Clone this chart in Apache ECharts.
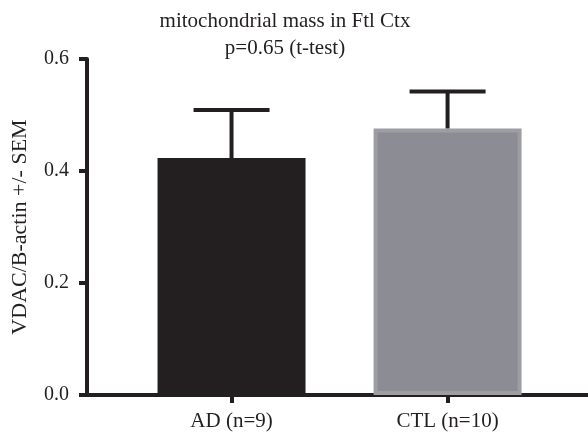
<!DOCTYPE html>
<html>
<head>
    <meta charset="utf-8">
    <script src="https://cdn.jsdelivr.net/npm/echarts@6/dist/echarts.min.js"></script>
    <style>
        html, body { margin: 0; padding: 0; background: #fff; }
    </style>
</head>
<body>
<div id="main" style="width: 588px;height:432px;"></div>
<script type="text/javascript">
    // data
    var groups = ['AD (n=9)', 'CTL (n=10)'];
    var positions = [1, 2];
    var means = [0.423, 0.476];
    var sems = [0.086, 0.066];
    var barColors = ['#231f20', '#8c8c94'];

    var ink = '#231f20';
    var serif = 'Liberation Serif';

    var barData = [];
    var errData = [];
    for (var i = 0; i < groups.length; i++) {
        var item = { value: [positions[i], means[i]], itemStyle: { color: barColors[i] } };
        if (i == 1) {
            item.itemStyle.borderColor = '#9d9da3';
            item.itemStyle.borderWidth = 4;
        }
        barData.push(item);
        errData.push([positions[i], means[i], means[i] + sems[i]]);
    }

    var myChart = echarts.init(document.getElementById('main'));

    var option = {
        animation: false,
        title: {
            text: 'mitochondrial mass in Ftl Ctx\np=0.65 (t-test)',
            left: 280,
            top: 3,
            textAlign: 'center',
            textStyle: {
                fontFamily: serif,
                fontSize: 21,
                fontWeight: 'normal',
                color: ink,
                lineHeight: 27
            }
        },
        grid: { left: 87, right: 0, top: 59, bottom: 37 },
        xAxis: {
            type: 'value',
            min: 0.331,
            max: 2.65,
            splitLine: { show: false },
            axisLine: { lineStyle: { color: ink, width: 4 } },
            axisTick: { customValues: positions, length: 8, lineStyle: { color: ink, width: 4 } },
            axisLabel: {
                customValues: positions,
                margin: 16,
                fontFamily: serif,
                fontSize: 21,
                color: ink,
                formatter: function (v) {
                    return groups[positions.indexOf(v)];
                }
            }
        },
        yAxis: {
            type: 'value',
            min: 0,
            max: 0.6,
            interval: 0.2,
            name: 'VDAC/B-actin +/- SEM',
            nameLocation: 'middle',
            nameGap: 56,
            nameTextStyle: { fontFamily: serif, fontSize: 22, color: ink },
            splitLine: { show: false },
            axisLine: { show: true, lineStyle: { color: ink, width: 4 } },
            axisTick: { show: true, length: 8, lineStyle: { color: ink, width: 4 } },
            axisLabel: {
                margin: 18,
                fontFamily: serif,
                fontSize: 20,
                color: ink,
                formatter: function (v) { return v.toFixed(1); }
            }
        },
        series: [
            {
                type: 'bar',
                barWidth: 148,
                data: barData
            },
            {
                type: 'custom',
                z: 3,
                renderItem: function (params, api) {
                    var base = api.coord([api.value(0), api.value(1)]);
                    var top = api.coord([api.value(0), api.value(2)]);
                    var half = 38;
                    var st = { stroke: ink, lineWidth: 4 };
                    return {
                        type: 'group',
                        children: [
                            { type: 'line', shape: { x1: base[0], y1: base[1], x2: top[0], y2: top[1] }, style: st },
                            { type: 'line', shape: { x1: top[0] - half, y1: top[1], x2: top[0] + half, y2: top[1] }, style: st }
                        ]
                    };
                },
                data: errData
            }
        ]
    };

    myChart.setOption(option);
</script>
</body>
</html>
